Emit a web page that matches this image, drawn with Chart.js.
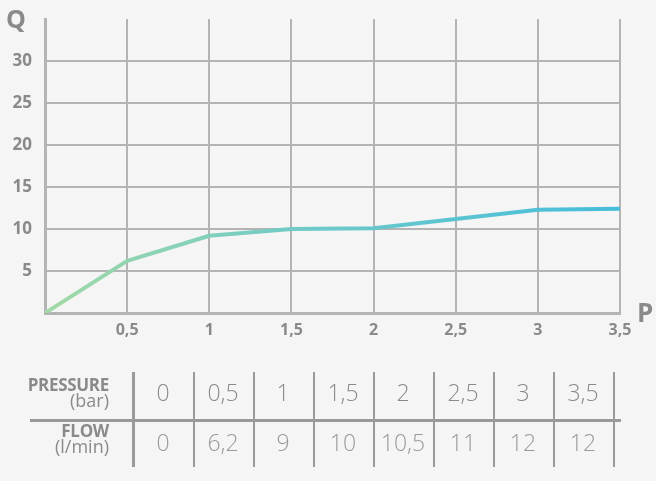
<!DOCTYPE html>
<html>
<head>
<meta charset="utf-8">
<script src="https://cdn.jsdelivr.net/npm/chart.js@4/dist/chart.umd.min.js"></script>
<style>
  html, body { margin:0; padding:0; background:#f5f5f5; }
  body { width:656px; height:481px; position:relative; overflow:hidden; font-family:"Open Sans", "Noto Sans", sans-serif; color:#8a8a8a; }
  #wrap { position:absolute; left:0; top:0; width:656px; height:350px; }
  .axlbl { position:absolute; font-weight:700; color:#8a8a8a; line-height:1; }
  #table { position:absolute; left:0; top:0; width:656px; height:481px; }
  .cell { position:absolute; width:60px; text-align:center; font-size:23px; font-weight:300; line-height:1; }
  .lab { position:absolute; right:547px; text-align:right; line-height:1; white-space:nowrap; }
  .lab b { font-size:17px; font-weight:700; letter-spacing:-0.3px; display:block; }
  .lab span { font-size:18px; font-weight:400; display:block; }
  .vl { position:absolute; background:#9a9a9a; }
</style>
</head>
<body>
<div id="wrap"><canvas id="c"></canvas></div>
<div class="axlbl" style="left:6px;top:6px;font-size:25px;">Q</div>
<div class="axlbl" style="left:637px;top:299px;font-size:26px;">P</div>
<div id="table"></div>
<script>
// Data
const pressure = [0, 0.5, 1, 1.5, 2, 2.5, 3, 3.5];
const flowCurve = [0, 6.2, 9.2, 10, 10.1, 11.2, 12.3, 12.4];
// Table text
const pressureLabels = ["0", "0,5", "1", "1,5", "2", "2,5", "3", "3,5"];
const flowLabels = ["0", "6,2", "9", "10", "10,5", "11", "12", "12"];
const xTicks = [0.5, 1, 1.5, 2, 2.5, 3, 3.5];
const yTicks = [5, 10, 15, 20, 25, 30];

const fmt = v => String(v).replace('.', ',');

const canvas = document.getElementById('c');
canvas.width = 656; canvas.height = 350;
canvas.style.width = '656px'; canvas.style.height = '350px';

new Chart(canvas, {
  type: 'line',
  data: {
    datasets: [{
      data: pressure.map((p, i) => ({x: p, y: flowCurve[i]})),
      borderWidth: 4,
      pointRadius: 0,
      tension: 0,
      fill: false,
      borderCapStyle: 'butt',
      borderJoinStyle: 'round',
      borderColor: ctx => {
        const ca = ctx.chart.chartArea;
        if (!ca) return '#6cc8c6';
        const g = ctx.chart.ctx.createLinearGradient(ca.left, 0, ca.right, 0);
        g.addColorStop(0, '#a2d9a6');
        g.addColorStop(0.45, '#6fcac8');
        g.addColorStop(1, '#45bddb');
        return g;
      }
    }]
  },
  options: {
    responsive: false,
    animation: false,
    devicePixelRatio: 1,
    plugins: { legend: { display: false }, tooltip: { enabled: false } },
    layout: { padding: { left: 0, top: 19, right: 36, bottom: 0 } },
    scales: {
      x: {
        type: 'linear', min: 0, max: 3.5,
        afterBuildTicks: s => { s.ticks = [0].concat(xTicks).map(v => ({value: v})); },
        afterFit: s => { s.height = 37; s.paddingLeft = 0; s.paddingRight = 0; },
        grid: {
          color: c => c.tick && c.tick.value === 0 ? 'rgba(0,0,0,0)' : '#b4b4b4',
          lineWidth: 2, drawTicks: false
        },
        border: { color: '#b4b4b4', width: 3 },
        ticks: {
          padding: 8, color: '#8a8a8a', maxRotation: 0, autoSkip: false,
          font: { family: '"Open Sans", sans-serif', size: 16, weight: 'bold' },
          callback: v => v === 0 ? '' : fmt(v)
        }
      },
      y: {
        min: 0, max: 35,
        afterBuildTicks: s => { s.ticks = [0].concat(yTicks, [35]).map(v => ({value: v})); },
        afterFit: s => { s.width = 45; s.paddingTop = 0; s.paddingBottom = 0; },
        grid: {
          color: c => (c.tick && (c.tick.value === 0 || c.tick.value === 35)) ? 'rgba(0,0,0,0)' : '#b4b4b4',
          lineWidth: 2, drawTicks: false
        },
        border: { color: '#b4b4b4', width: 3 },
        ticks: {
          padding: 13, color: '#8a8a8a',
          font: { family: '"Open Sans", sans-serif', size: 17, weight: 'bold' },
          callback: v => (v === 0 || v === 35) ? '' : String(v)
        }
      }
    }
  }
});

// Table below the chart
const tbl = document.getElementById('table');
function add(html) { tbl.insertAdjacentHTML('beforeend', html); }
add('<div class="lab" style="top:376px;"><b>PRESSURE</b><span style="margin-top:-2px;">(bar)</span></div>');
add('<div class="lab" style="top:422px;"><b>FLOW</b><span style="margin-top:-2px;">(l/min)</span></div>');
const colLeft = 133, colW = 60;
pressureLabels.forEach((t, i) => {
  add('<div class="cell" style="left:' + (colLeft + i * colW) + 'px;top:381px;color:#8a8a8a;">' + t + '</div>');
});
flowLabels.forEach((t, i) => {
  add('<div class="cell" style="left:' + (colLeft + i * colW) + 'px;top:431px;color:#9a9a9a;">' + t + '</div>');
});
// lines
add('<div class="vl" style="left:30px;top:419px;width:591px;height:3px;"></div>');
add('<div class="vl" style="left:132px;top:372px;width:3px;height:95px;"></div>');
for (let i = 1; i <= pressureLabels.length; i++) {
  add('<div class="vl" style="left:' + (colLeft + i * colW) + 'px;top:372px;width:1.5px;height:95px;"></div>');
}
</script>
</body>
</html>
